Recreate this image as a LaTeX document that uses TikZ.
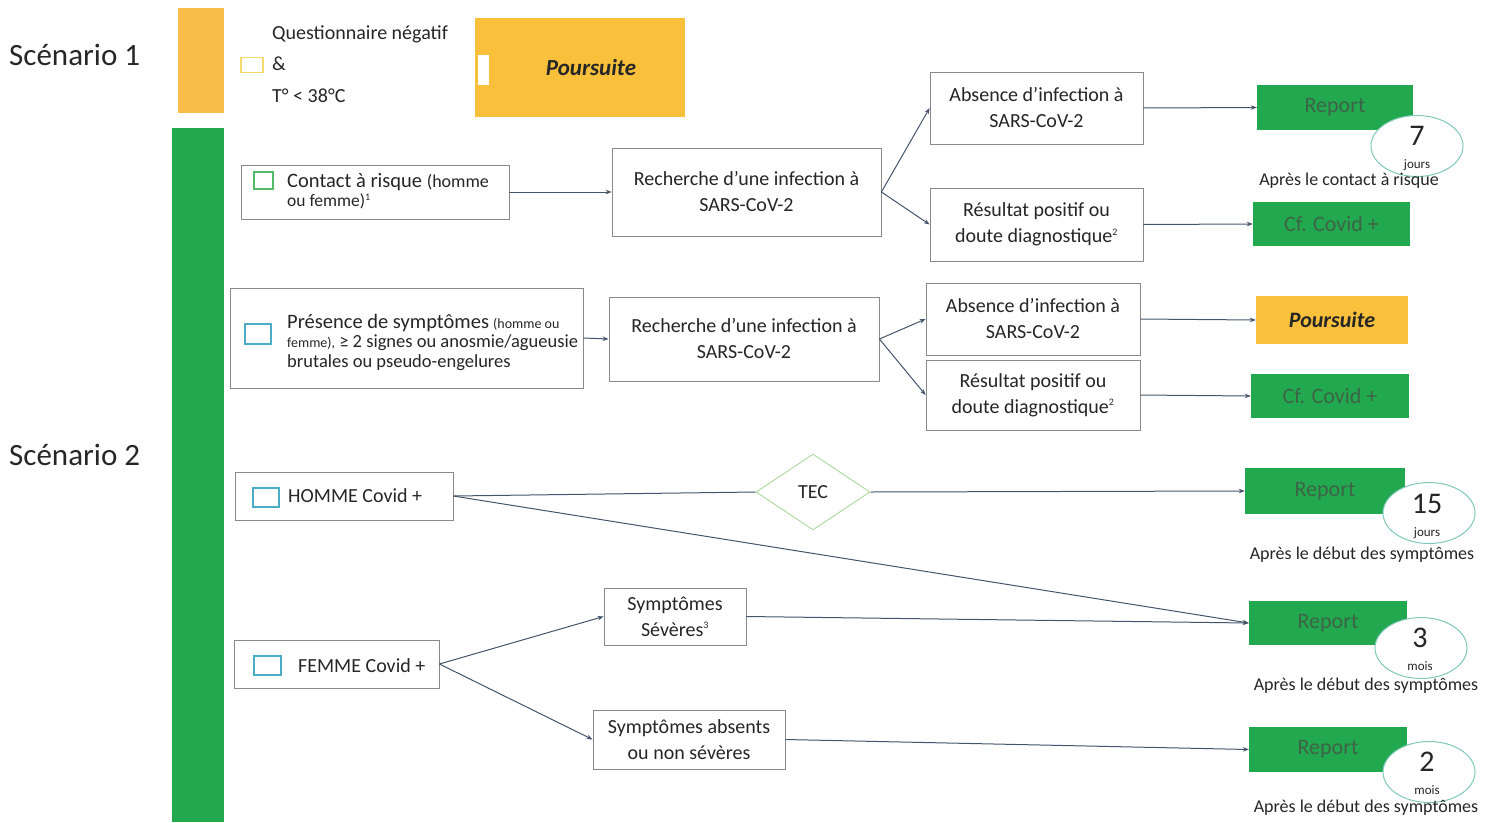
\documentclass[tikz,border=0pt]{standalone}
\usepackage{fontspec}
\setmainfont{Carlito}
\usetikzlibrary{shapes.geometric,arrows.meta}
\definecolor{orangebar}{HTML}{F8BD48}
\definecolor{gold}{HTML}{F9C03B}
\definecolor{grn}{HTML}{22A84E}
\definecolor{reptxt}{HTML}{3E6447}
\definecolor{boxgray}{HTML}{8A8A8A}
\definecolor{arrc}{HTML}{44546A}
\definecolor{tealc}{HTML}{7FC8BA}
\definecolor{chkteal}{HTML}{4BACC6}
\definecolor{chkgrn}{HTML}{55BB66}
\definecolor{chkyel}{HTML}{F2DC6A}
\definecolor{diam}{HTML}{B3DBA6}
\definecolor{txt}{HTML}{262626}
\begin{document}
\begin{tikzpicture}[x=1pt,y=-1pt,
  every node/.style={text=txt},
  pbox/.style={rectangle, draw=boxgray, line width=0.8pt, fill=white, inner sep=0pt, align=center, font=\fontsize{20}{26}\selectfont},
  gbox/.style={rectangle, fill=grn, draw=none, inner sep=0pt, text=reptxt, font=\fontsize{22}{26}\selectfont},
  obox/.style={rectangle, fill=gold, draw=none, inner sep=0pt, font=\fontsize{23}{26}\selectfont\bfseries\itshape},
  chk/.style={rectangle, draw=#1, line width=1.1pt, fill=white, inner sep=0pt},
  ell/.style={ellipse, draw=tealc, fill=white, line width=1pt, inner sep=0pt, minimum width=92pt, minimum height=61pt},
  arr/.style={draw=arrc, line width=1pt, -{Stealth[length=6pt,width=4.5pt]}},
  link/.style={draw=arrc, line width=1pt},
  captxt/.style={font=\fontsize{18}{20}\selectfont, inner sep=0pt},
  bignum/.style={font=\fontsize{30}{32}\selectfont, inner sep=0pt},
  unit/.style={font=\fontsize{13}{14}\selectfont, inner sep=0pt}
]
\useasboundingbox (0,0) rectangle (1498,822);

% scenario labels and bars
\node[anchor=west, inner sep=0pt, font=\fontsize{31}{34}\selectfont] (s1) at (9,55) {Scénario 1};
\node[anchor=west, inner sep=0pt, font=\fontsize{31}{34}\selectfont] (s2) at (9,455) {Scénario 2};
\node[rectangle, fill=orangebar, inner sep=0pt, minimum width=46pt, minimum height=105pt] (bar1) at (201,60.5) {};
\node[rectangle, fill=grn, inner sep=0pt, minimum width=52pt, minimum height=694pt] (bar2) at (198,475) {};

% scenario 1
\node[chk=chkyel, minimum width=22pt, minimum height=15pt] (c0) at (252,65) {};
\node[anchor=north west, inner sep=0pt, align=left, font=\fontsize{20}{31.5}\selectfont] (q) at (272,25) {Questionnaire négatif\\\&\\T° < 38°C};
\node[obox, minimum width=210pt, minimum height=99pt] (p1) at (580,67.5) {};
\node[rectangle, fill=white, inner sep=0pt, minimum width=11pt, minimum height=30pt] (tab) at (483.5,70) {};
\node[inner sep=0pt, font=\fontsize{23}{26}\selectfont\bfseries\itshape] (p1t) at (591,68) {Poursuite};

% row 1
\node[pbox, minimum width=268pt, minimum height=54pt] (A) at (375,192) {};
\node[chk=chkgrn, minimum width=19pt, minimum height=17pt] (cA) at (263.5,180.5) {};
\node[anchor=north west, inner sep=0pt, align=left, font=\fontsize{20.5}{20}\selectfont] (At) at (287,173) {Contact à risque {\fontsize{18}{18}\selectfont(homme}\\[-1pt]{\fontsize{17.5}{18}\selectfont ou femme)\textsuperscript{\fontsize{10}{10}\selectfont 1}}};
\node[pbox, minimum width=269pt, minimum height=88pt] (B) at (746.5,192) {Recherche d’une infection à\\SARS-CoV-2};
\node[pbox, minimum width=213pt, minimum height=72pt] (C) at (1036.5,108) {Absence d’infection à\\SARS-CoV-2};
\node[pbox, minimum width=213pt, minimum height=73pt] (D) at (1036.5,224.5) {Résultat positif ou\\doute diagnostique\textsuperscript{\fontsize{10}{10}\selectfont 2}};
\node[gbox, minimum width=156pt, minimum height=45pt] (R1) at (1335,107.5) {Report};
\node[gbox, minimum width=157pt, minimum height=44pt] (CF1) at (1331.5,224) {Cf. Covid +};

% row 2
\node[pbox, minimum width=353pt, minimum height=100pt] (E) at (406.5,338) {};
\node[chk=chkteal, minimum width=26pt, minimum height=20pt] (cE) at (258,334) {};
\node[anchor=north west, inner sep=0pt, align=left, font=\fontsize{18.5}{19.5}\selectfont] (Et) at (287,314) {{\fontsize{20.5}{20}\selectfont Présence de symptômes} {\fontsize{14}{12}\selectfont(homme ou}\\{\fontsize{14}{12}\selectfont femme),} ≥ 2 signes ou anosmie/agueusie\\brutales ou pseudo-engelures};
\node[pbox, minimum width=270pt, minimum height=84pt] (F) at (744,339) {Recherche d’une infection à\\SARS-CoV-2};
\node[pbox, minimum width=214pt, minimum height=72pt] (G) at (1033,319) {Absence d’infection à\\SARS-CoV-2};
\node[pbox, minimum width=214pt, minimum height=70pt] (H) at (1033,395) {Résultat positif ou\\doute diagnostique\textsuperscript{\fontsize{10}{10}\selectfont 2}};
\node[obox, minimum width=152pt, minimum height=48pt, font=\fontsize{22}{26}\selectfont\bfseries\itshape] (P2) at (1332,320) {Poursuite};
\node[gbox, minimum width=158pt, minimum height=44pt] (CF2) at (1330,396) {Cf. Covid +};

% row 3
\node[pbox, minimum width=218pt, minimum height=48pt] (I) at (344,496) {};
\node[chk=chkteal, minimum width=26pt, minimum height=19pt] (cI) at (266,497.5) {};
\node[anchor=west, inner sep=0pt, font=\fontsize{20}{20}\selectfont] (It) at (288,496) {HOMME Covid +};
\node[diamond, draw=diam, line width=1pt, fill=white, inner sep=0pt, minimum width=114pt, minimum height=76pt, font=\fontsize{20}{20}\selectfont] (T) at (813,492) {TEC};
\node[gbox, minimum width=160pt, minimum height=46pt] (R3) at (1325,491) {Report};

% row 4
\node[pbox, minimum width=205pt, minimum height=48pt] (J) at (336.5,664) {};
\node[chk=chkteal, minimum width=27pt, minimum height=19pt] (cJ) at (267.5,665.5) {};
\node[anchor=west, inner sep=0pt, font=\fontsize{20}{20}\selectfont] (Jt) at (298,666) {FEMME Covid +};
\node[pbox, minimum width=142pt, minimum height=57pt] (K) at (675,616.5) {Symptômes\\Sévères\textsuperscript{\fontsize{10}{10}\selectfont 3}};
\node[pbox, minimum width=192pt, minimum height=59pt] (L) at (689,739.5) {Symptômes absents\\ou non sévères};
\node[gbox, minimum width=158pt, minimum height=44pt] (R4) at (1328,623) {Report};
\node[gbox, minimum width=158pt, minimum height=45pt] (R5) at (1328,749.5) {Report};

% connectors
\draw[arr] (A.east) -- (B.west);
\draw[arr] (B.east) -- (C.west);
\draw[arr] (B.east) -- (D.west);
\draw[arr] (C.east) -- (R1.west);
\draw[arr] (D.east) -- (CF1.west);
\draw[arr] (E.east) -- (F.west);
\draw[arr] (F.east) -- (G.west);
\draw[arr] (F.east) -- (H.west);
\draw[arr] (G.east) -- (P2.west);
\draw[arr] (H.east) -- (CF2.west);
\draw[link] (I.east) -- (T.west);
\draw[arr] (T.east) -- (R3.west);
\draw[arr] (I.east) -- (R4.west);
\draw[arr] (J.east) -- (K.west);
\draw[arr] (J.east) -- (L.west);
\draw[arr] (K.east) -- (R4.west);
\draw[arr] (L.east) -- (R5.west);

% ellipses
\node[ell] (e1) at (1417,146) {};
\node[bignum] (n1) at (1417,136) {7};
\node[unit] (u1) at (1417,165) {jours};
\node[ell] (e3) at (1429,513) {};
\node[bignum] (n3) at (1427,504) {15};
\node[unit] (u3) at (1427,533) {jours};
\node[ell] (e4) at (1421,648) {};
\node[bignum] (n4) at (1420,638) {3};
\node[unit] (u4) at (1420,666) {mois};
\node[ell] (e5) at (1429,772) {};
\node[bignum] (n5) at (1427,762) {2};
\node[unit] (u5) at (1427,790) {mois};

% captions
\node[captxt] (k1) at (1349,181) {Après le contact à risque};
\node[captxt] (k3) at (1362,555) {Après le début des symptômes};
\node[captxt] (k4) at (1366,686) {Après le début des symptômes};
\node[captxt] (k5) at (1366,808) {Après le début des symptômes};
\end{tikzpicture}
\end{document}
